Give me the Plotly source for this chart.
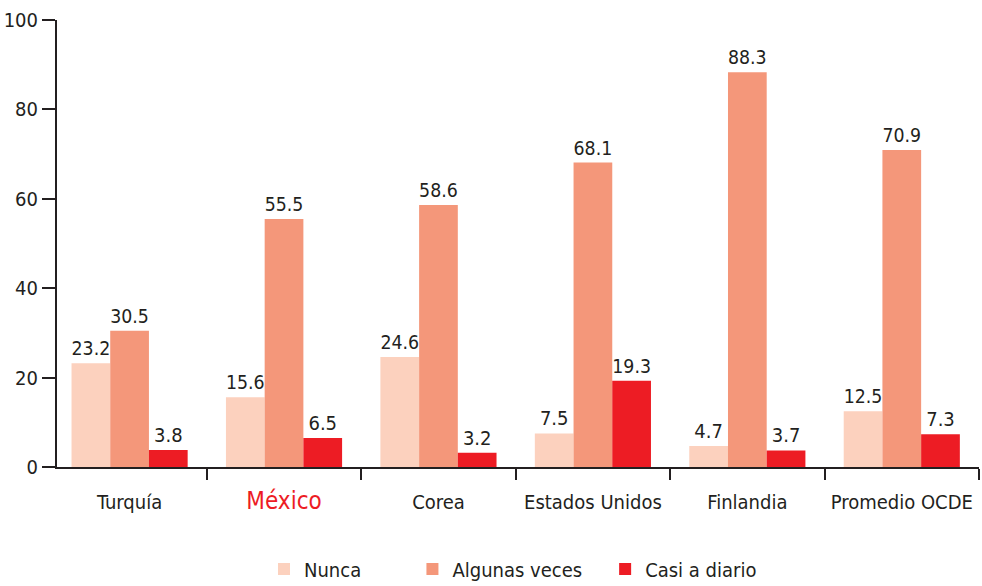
import plotly.graph_objects as go

categories = ["Turquía", "México", "Corea", "Estados Unidos", "Finlandia", "Promedio OCDE"]
nunca = [23.2, 15.6, 24.6, 7.5, 4.7, 12.5]
algunas = [30.5, 55.5, 58.6, 68.1, 88.3, 70.9]
casi = [3.8, 6.5, 3.2, 19.3, 3.7, 7.3]
series_names = ["Nunca", "Algunas veces", "Casi a diario"]
colors = ["#fcd1be", "#f4977a", "#ed1c24"]
y_ticks = [0, 20, 40, 60, 80, 100]

FONT = "Liberation Sans Narrow, Arial Narrow, DejaVu Sans Condensed, sans-serif"
TXT = "#231f20"

ticktext = [
    f'<span style="color:#ed1c24;font-size:24px">{c}</span>' if c == "México" else c
    for c in categories
]

fig = go.Figure()
legend_ids = ["legend", "legend2", "legend3"]
for name, vals, col, lid in zip(series_names, [nunca, algunas, casi], colors, legend_ids):
    fig.add_trace(go.Bar(
        x=categories, y=vals, name=name,
        marker=dict(color=col, line=dict(width=0)),
        text=[f"{v:.1f}" for v in vals], textposition="outside",
        textfont=dict(family=FONT, size=20, color=TXT),
        cliponaxis=False, showlegend=True,
        legend=lid,
    ))

leg_common = dict(orientation="h", yanchor="middle", xanchor="left",
                  font=dict(family=FONT, size=20, color=TXT),
                  bgcolor="rgba(0,0,0,0)", itemclick=False, visible=True)
fig.update_layout(
    width=982, height=586,
    margin=dict(l=57, r=3, t=20, b=119, autoexpand=False),
    plot_bgcolor="white", paper_bgcolor="white",
    barmode="group", bargap=0.248, bargroupgap=0,
    font=dict(family=FONT, size=20, color=TXT),
    showlegend=True,
    legend=dict(x=0.2245, y=-0.228, **leg_common),
    legend2=dict(x=0.3855, y=-0.228, **leg_common),
    legend3=dict(x=0.5945, y=-0.228, **leg_common),
    xaxis=dict(
        type="category", range=[-0.47, 5.5],
        tickmode="array", tickvals=categories, ticktext=ticktext,
        tickson="boundaries", ticks="outside", ticklen=11, tickwidth=2, tickcolor=TXT,
        showline=True, linecolor=TXT, linewidth=2,
        tickfont=dict(family=FONT, size=20, color=TXT),
        ticklabelstandoff=16,
        showgrid=False, zeroline=False,
    ),
    yaxis=dict(
        range=[0, 100], tickmode="array", tickvals=y_ticks,
        ticks="outside", ticklen=13, tickwidth=2, tickcolor=TXT,
        showline=True, linecolor=TXT, linewidth=2,
        tickfont=dict(family=FONT, size=20, color=TXT),
        showgrid=False, zeroline=False,
    ),
)
fig.write_html("out.html")
